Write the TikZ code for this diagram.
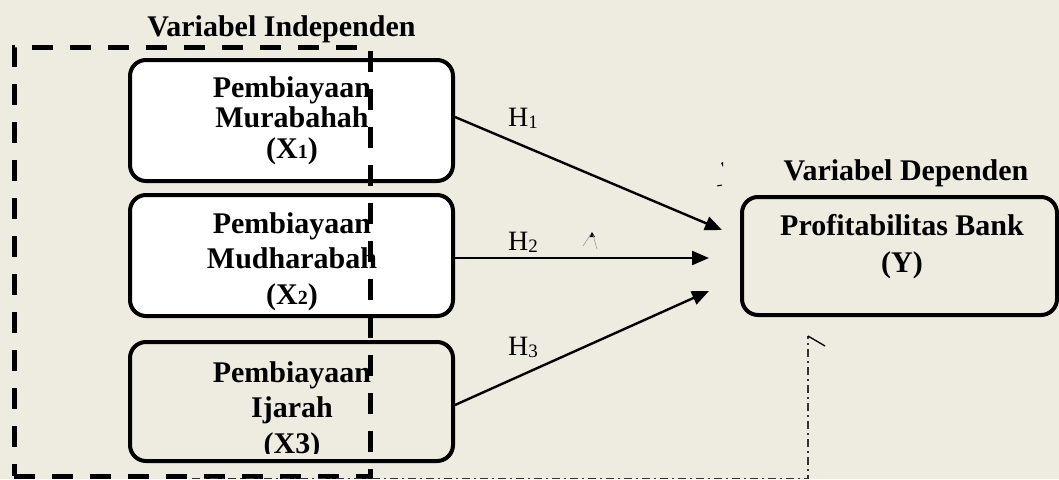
\documentclass[tikz,border=0pt]{standalone}
\usepackage{fontspec}
\setmainfont{Liberation Serif}
\usetikzlibrary{arrows.meta}
\definecolor{bgc}{RGB}{238,236,225}
\newcommand{\bsub}[1]{{\fontsize{20}{20}\selectfont #1}}
\newcommand{\hsub}[1]{\raisebox{-2.5pt}{\fontsize{19}{19}\selectfont #1}}
\begin{document}
\begin{tikzpicture}[x=1pt,y=-1pt,
  box/.style={draw, line width=4pt, rounded corners=16pt, minimum width=323pt, minimum height=121pt, inner sep=0pt},
  btxt/.style={inner sep=0pt, anchor=base, font=\bfseries},
  title/.style={inner sep=0pt, anchor=base, font=\fontsize{30}{32}\selectfont\bfseries},
  hlab/.style={inner sep=0pt, anchor=base west, font=\fontsize{28}{30}\selectfont},
  arr/.style={line width=2.4pt, -{Triangle[length=17pt,width=14pt]}},
  grpbox/.style={draw, line width=5pt, dash pattern=on 21pt off 17pt, minimum width=356pt, minimum height=429pt, inner sep=0pt},
  dd/.style={draw=black!80, line width=1.3pt, dash pattern=on 8pt off 4pt on 2pt off 4pt}
]
\useasboundingbox[fill=bgc] (0,0) rectangle (1059,479);

% titles
\node[title] (tind) at (281.5,36) {Variabel Independen};
\node[title] (tdep) at (906,180) {Variabel Dependen};

% independent boxes
\node[box, fill=white] (b1) at (291.5,120.5) {};
\node[box, fill=white] (b2) at (291.5,255.5) {};
\node[box, minimum height=119pt] (b3) at (291.5,401.5) {};

\node[btxt] (t1) at (292,97) {\fontsize{30}{30.5}\selectfont\begin{tabular}[t]{@{}c@{}}Pembiayaan\\Murabahah\\(X\bsub{1})\end{tabular}};
\node[btxt] (t2) at (292,233) {\fontsize{30}{35.5}\selectfont\begin{tabular}[t]{@{}c@{}}Pembiayaan\\Mudharabah\\(X\bsub{2})\end{tabular}};
\begin{scope}
  \clip (132,344) rectangle (451,453);
  \node[btxt] (t3) at (292,382) {\fontsize{30}{35.5}\selectfont\begin{tabular}[t]{@{}c@{}}Pembiayaan\\Ijarah\\(X3)\end{tabular}};
\end{scope}

% dependent box
\node[box, minimum width=315pt, minimum height=118pt] (yb) at (899.5,256) {};
\node[btxt] (ty) at (902,235) {\fontsize{30}{37}\selectfont\begin{tabular}[t]{@{}c@{}}Profitabilitas Bank\\(Y)\end{tabular}};

% group dashed frame (on top of boxes)
\node[grpbox] (grp) at (192,261.5) {};

% arrows
\coordinate (a1) at (722,230);
\coordinate (a2) at (709,258);
\coordinate (a3) at (709,291);
\draw[arr] ([yshift=3.5pt]b1.east) -- (a1);
\draw[arr] (b2.east |- a2) -- (a2);
\draw[arr] ([yshift=-3.5pt]b3.east) -- (a3);

\node[hlab] (h1) at (508,126) {H\hsub{1}};
\node[hlab] (h2) at (508,250) {H\hsub{2}};
\node[hlab] (h3) at (508,355) {H\hsub{3}};

% dash-dot connector from group to Y (unfinished arrow)
\coordinate (ytip) at (808,336);
\coordinate (hook) at (825,346);
\draw[dd] (grp.south) -| (ytip);
\draw[line width=1.3pt] (ytip) -- (hook);

% small stray marks
\fill (589,237) -- (592,232) -- (595,237) -- cycle;
\draw[black!40, line width=0.6pt] (591,234) -- (583,246);
\draw[black!40, line width=0.6pt] (593,235) -- (597,249);
\fill (721,163) -- (723,162) -- (723,167) -- cycle;
\draw[line width=1pt] (717,186) -- (722,185);
\end{tikzpicture}
\end{document}
